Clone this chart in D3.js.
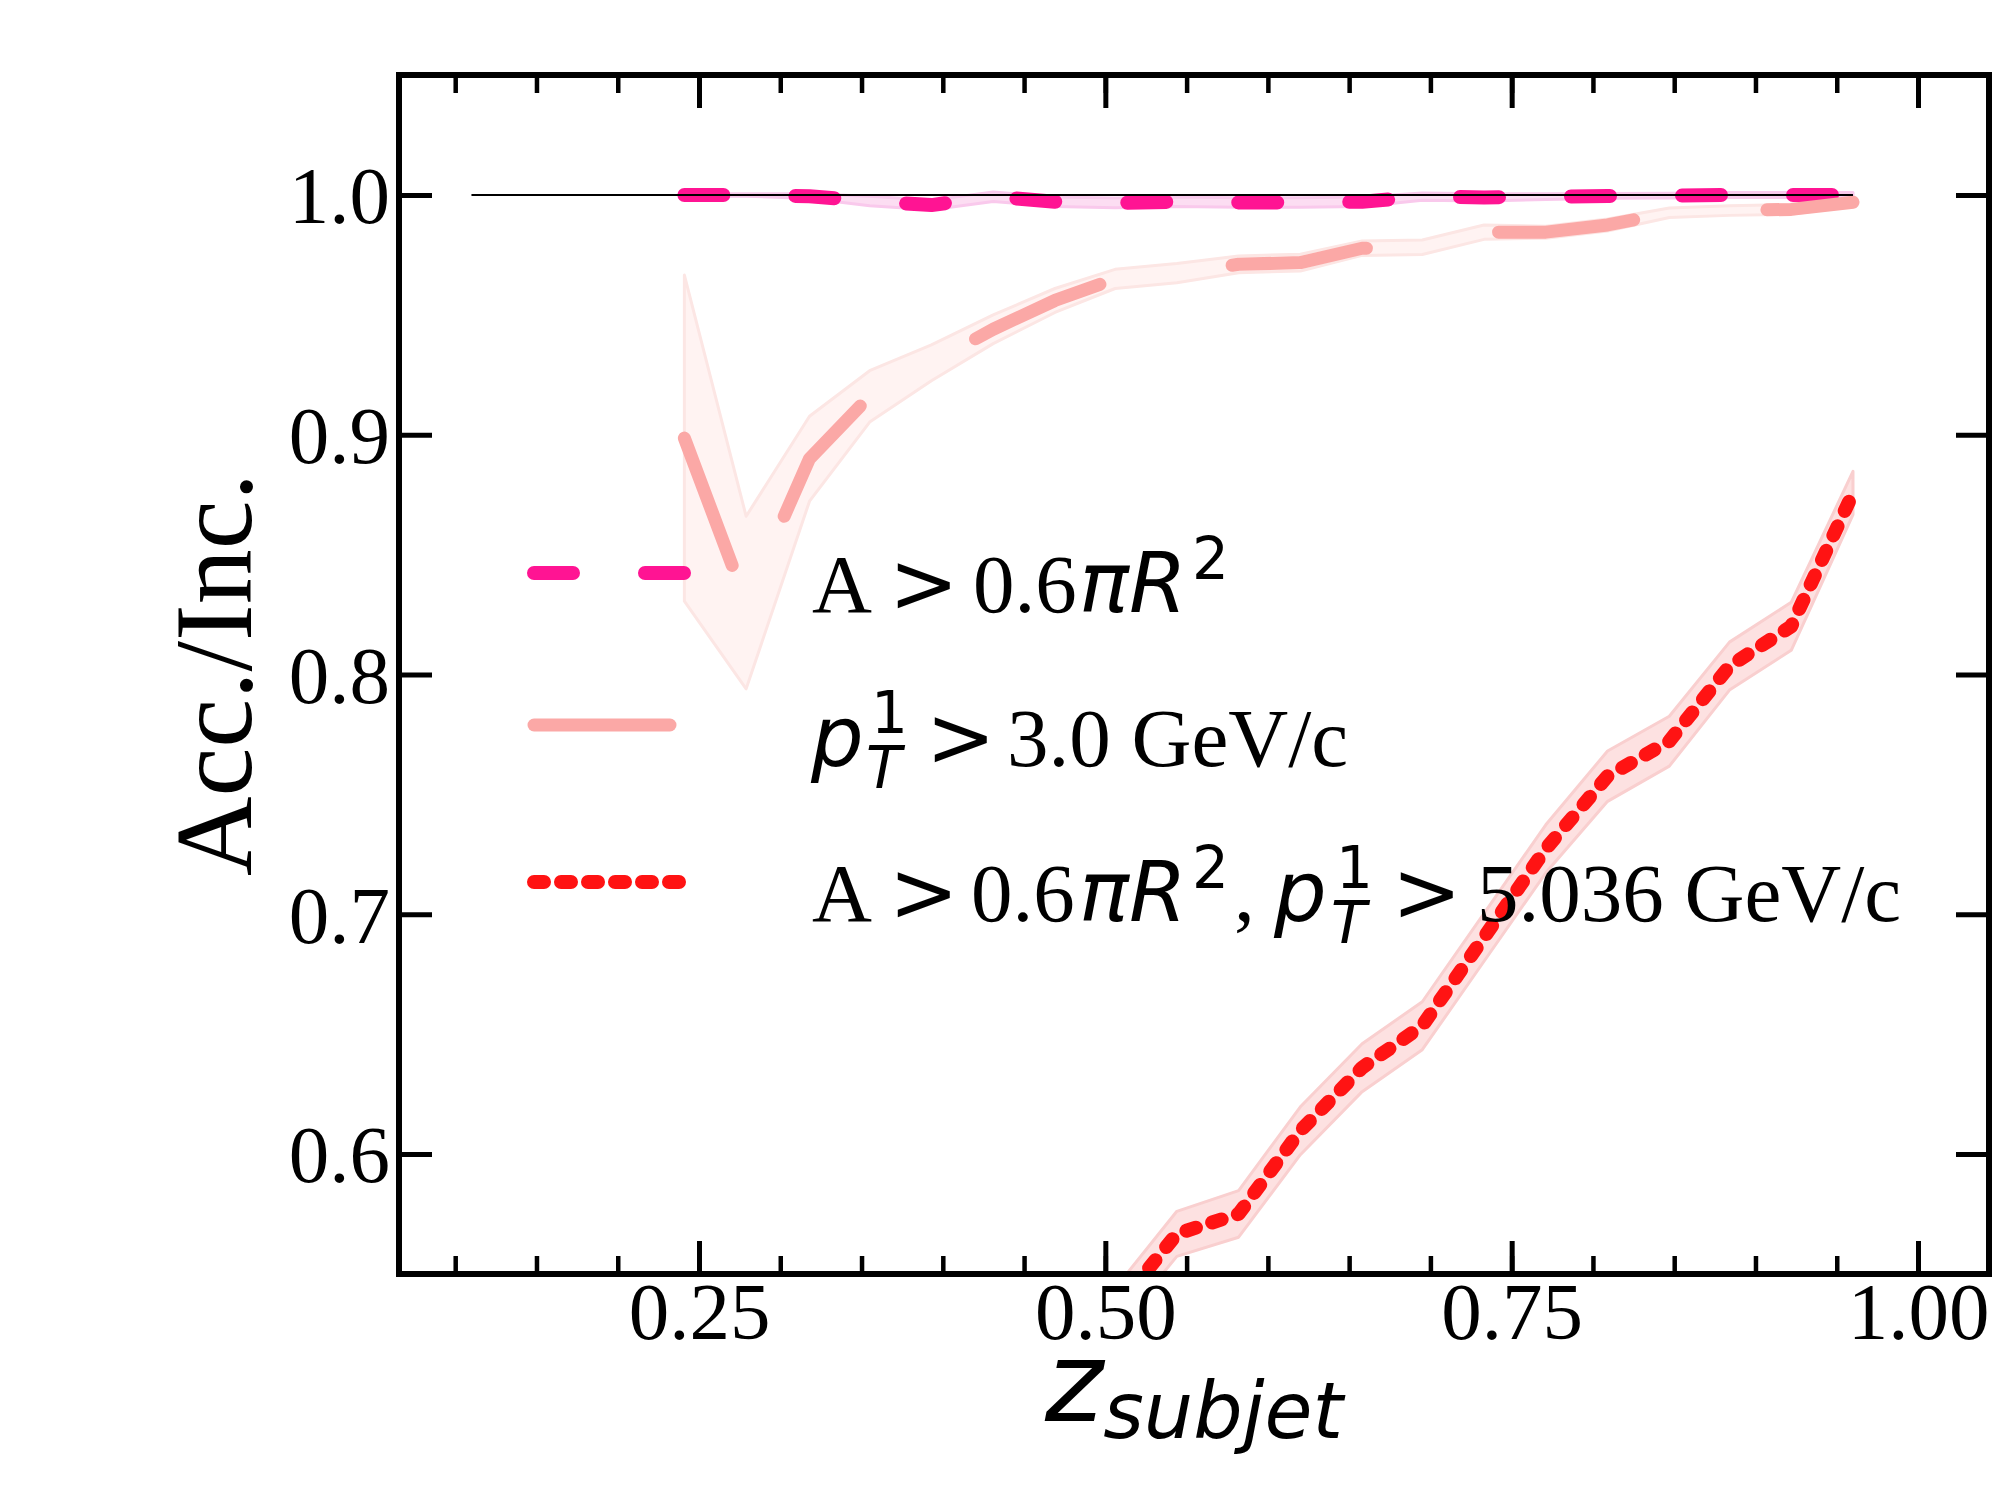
<!DOCTYPE html>
<html>
<head>
<meta charset="utf-8">
<script src="https://cdn.jsdelivr.net/npm/d3@7"></script>
<style>
  html, body { margin: 0; padding: 0; background: #fff; }
  svg { display: block; }
</style>
</head>
<body>
<svg id="chart" width="2000" height="1500"></svg>
<script>
// ---------------- data ----------------
const zBins = [0.241, 0.279, 0.318, 0.355, 0.393, 0.431, 0.469, 0.506, 0.544, 0.582,
               0.620, 0.658, 0.695, 0.733, 0.771, 0.809, 0.847, 0.884, 0.922, 0.960];

// A > 0.6 pi R^2
const areaRatio = [1.000, 1.000, 0.9995, 0.9975, 0.9958, 0.9993, 0.9972, 0.9967, 0.9972, 0.9969,
                   0.9969, 0.9972, 0.9993, 0.9990, 0.9993, 0.9996, 0.9997, 1.000, 1.000, 1.000];
const areaErr   = [0.0005, 0.0005, 0.001, 0.002, 0.002, 0.002, 0.002, 0.002, 0.002, 0.002,
                   0.002, 0.002, 0.0015, 0.0015, 0.0012, 0.001, 0.001, 0.001, 0.001, 0.001];

// pT leading > 3.0 GeV/c
const ptRatio = [0.8986, 0.830, 0.890, 0.916, 0.930, 0.944, 0.956, 0.965, 0.9674, 0.9711,
                 0.9718, 0.9778, 0.9782, 0.9845, 0.9845, 0.9875, 0.9926, 0.9935, 0.9940, 0.9970];
const ptErr   = [0.068, 0.036, 0.0177, 0.0107, 0.0075, 0.006, 0.005, 0.004, 0.004, 0.0035,
                 0.0035, 0.003, 0.003, 0.003, 0.0025, 0.0025, 0.002, 0.002, 0.002, 0.0015];

// A > 0.6 pi R^2 and pT leading > 5.036 GeV/c
const comboZ     = [0.506, 0.544, 0.582, 0.620, 0.658, 0.695, 0.733, 0.771, 0.809, 0.847, 0.884, 0.922, 0.960];
const comboRatio = [0.535, 0.5667, 0.575, 0.6097, 0.636, 0.6535, 0.6904, 0.7273, 0.7576, 0.7722, 0.8035, 0.8201, 0.8757];
const comboErr   = [0.009, 0.0094, 0.0097, 0.010, 0.010, 0.010, 0.010, 0.010, 0.0105, 0.0104, 0.010, 0.010, 0.009];

const refLineZ = [0.11, 0.96];
const refLineY = [1.0, 1.0];

const xMajorTicks = [0.25, 0.50, 0.75, 1.00];
const xMinorTicks = [0.10, 0.15, 0.20, 0.25, 0.30, 0.35, 0.40, 0.45, 0.50, 0.55,
                     0.60, 0.65, 0.70, 0.75, 0.80, 0.85, 0.90, 0.95, 1.00];
const yMajorTicks = [0.6, 0.7, 0.8, 0.9, 1.0];

const xDomain = [0.06542, 1.04368];
const yDomain = [0.54995, 1.05005];

const yLabel = "Acc./Inc.";
const xLabelMain = "z";
const xLabelSub = "subjet";

// ---------------- styles ----------------
const SERIF = "'Liberation Serif', 'Times New Roman', Times, serif";
const MATH = "'DejaVu Sans', sans-serif";

const series = [
  { name: "area", z: zBins, v: areaRatio, e: areaErr,
    color: "#FF1493", width: 14, dash: "39 72",
    bandFill: "#FCDDF2", bandStroke: "#F9C9EC" },
  { name: "pt", z: zBins, v: ptRatio, e: ptErr,
    color: "#FBA8A6", width: 13, dash: "136 134",
    bandFill: "#FFF3F2", bandStroke: "#FCE6E4" },
  { name: "combo", z: comboZ, v: comboRatio, e: comboErr,
    color: "#FF1313", width: 14, dash: "10 17",
    bandFill: "#FDE1E1", bandStroke: "#F9CFCF" }
];

// ---------------- layout ----------------
const L = 399, R = 1989, T = 75, B = 1274;
const x = d3.scaleLinear().domain(xDomain).range([L, R]);
const y = d3.scaleLinear().domain(yDomain).range([B, T]);

const svg = d3.select("#chart");
svg.append("rect").attr("width", 2000).attr("height", 1500).attr("fill", "#fff");

svg.append("defs").append("clipPath").attr("id", "plotclip")
  .append("rect").attr("x", L).attr("y", T).attr("width", R - L).attr("height", B - T);

const plot = svg.append("g").attr("clip-path", "url(#plotclip)");

// bands
series.forEach(s => {
  const pts = s.z.map((z, i) => ({ z, v: s.v[i], e: s.e[i] }));
  const area = d3.area().x(d => x(d.z)).y0(d => y(d.v - d.e)).y1(d => y(d.v + d.e));
  plot.append("path").datum(pts).attr("d", area)
    .attr("fill", s.bandFill).attr("stroke", s.bandStroke).attr("stroke-width", 3)
    .attr("stroke-linejoin", "round");
});

// lines
series.forEach(s => {
  const pts = s.z.map((z, i) => ({ z, v: s.v[i] }));
  const line = d3.line().x(d => x(d.z)).y(d => y(d.v));
  plot.append("path").datum(pts).attr("d", line)
    .attr("fill", "none").attr("stroke", s.color).attr("stroke-width", s.width)
    .attr("stroke-dasharray", s.dash).attr("stroke-linecap", "round")
    .attr("stroke-linejoin", "round");
});

// reference line at 1.0
plot.append("path")
  .datum(refLineZ.map((z, i) => ({ z, v: refLineY[i] })))
  .attr("d", d3.line().x(d => x(d.z)).y(d => y(d.v)))
  .attr("fill", "none").attr("stroke", "#000").attr("stroke-width", 2);

// ---------------- axes ----------------
function styleAxis(g, w) {
  g.select(".domain").remove();
  g.selectAll(".tick line").attr("stroke", "#000").attr("stroke-width", w);
}
// bottom
const gxMinor = svg.append("g").attr("transform", `translate(0,${B})`)
  .call(d3.axisBottom(x).tickValues(xMinorTicks).tickSize(-18).tickFormat(""));
styleAxis(gxMinor, 4.5);
const gx = svg.append("g").attr("transform", `translate(0,${B})`)
  .call(d3.axisBottom(x).tickValues(xMajorTicks).tickSize(-33).tickPadding(8).tickFormat(d3.format(".2f")));
styleAxis(gx, 5);
gx.selectAll(".tick text").attr("font-family", SERIF).attr("font-size", 81).attr("fill", "#000")
  .attr("y", 65).attr("dy", 0);
// top
const gtMinor = svg.append("g").attr("transform", `translate(0,${T})`)
  .call(d3.axisTop(x).tickValues(xMinorTicks).tickSize(-18).tickFormat(""));
styleAxis(gtMinor, 4.5);
const gt = svg.append("g").attr("transform", `translate(0,${T})`)
  .call(d3.axisTop(x).tickValues(xMajorTicks).tickSize(-33).tickFormat(""));
styleAxis(gt, 5);
// left
const gy = svg.append("g").attr("transform", `translate(${L},0)`)
  .call(d3.axisLeft(y).tickValues(yMajorTicks).tickSize(-33).tickPadding(9).tickFormat(d3.format(".1f")));
styleAxis(gy, 5);
gy.selectAll(".tick text").attr("font-family", SERIF).attr("font-size", 81).attr("fill", "#000")
  .attr("dy", "0.345em");
// right
const gr = svg.append("g").attr("transform", `translate(${R},0)`)
  .call(d3.axisRight(y).tickValues(yMajorTicks).tickSize(-33).tickFormat(""));
styleAxis(gr, 5);

// frame
svg.append("rect").attr("x", L).attr("y", T).attr("width", R - L).attr("height", B - T)
  .attr("fill", "none").attr("stroke", "#000").attr("stroke-width", 6);

// ---------------- axis labels ----------------
svg.append("text")
  .attr("transform", `translate(251,${(T + B) / 2}) rotate(-90)`)
  .attr("text-anchor", "middle")
  .attr("font-family", SERIF).attr("font-size", 110).attr("fill", "#000")
  .text(yLabel);

const xl = svg.append("text")
  .attr("x", (L + R) / 2).attr("y", 1421)
  .attr("text-anchor", "middle")
  .attr("font-family", MATH).attr("font-style", "italic").attr("fill", "#000");
xl.append("tspan").attr("font-size", 111).text(xLabelMain);
xl.append("tspan").attr("font-size", 78).attr("dy", 17).text(xLabelSub);

// ---------------- legend ----------------
// each text element is a list of pieces: [text, x, baselineShift, family, italic, size]
const legendRows = [
  { base: 612, handleY: 573, s: 0, items: [
    [["A", 812, 0, "serif", false, 83]],
    [[">", 889, 0, "math", false, 83]],
    [["0.6", 973, 0, "serif", false, 83]],
    [["\u03C0R", 1079, 0, "math", true, 83], ["2", 1192, -33, "math", false, 58]]
  ]},
  { base: 766, handleY: 725, s: 1, items: [
    [["p", 811, 0, "math", true, 83], ["1", 871, -33, "math", false, 58], ["T", 866, 22, "math", true, 58]],
    [[">", 926, 0, "math", false, 83]],
    [["3.0 GeV/c", 1007, 0, "serif", false, 83]]
  ]},
  { base: 921, handleY: 882, s: 2, items: [
    [["A", 812, 0, "serif", false, 83]],
    [[">", 889, 0, "math", false, 83]],
    [["0.6", 971, 0, "serif", false, 83]],
    [["\u03C0R", 1079, 0, "math", true, 83], ["2", 1192, -33, "math", false, 58]],
    [[",", 1234, 0, "serif", false, 83]],
    [["p", 1274, 0, "math", true, 83], ["1", 1336, -33, "math", false, 58], ["T", 1331, 22, "math", true, 58]],
    [[">", 1392, 0, "math", false, 83]],
    [["5.036 GeV/c", 1477, 0, "serif", false, 83]]
  ]}
];

const leg = svg.append("g");
legendRows.forEach(row => {
  const s = series[row.s];
  leg.append("line")
    .attr("x1", 534).attr("x2", 684).attr("y1", row.handleY).attr("y2", row.handleY)
    .attr("stroke", s.color).attr("stroke-width", s.width)
    .attr("stroke-dasharray", s.dash).attr("stroke-linecap", "round");
  row.items.forEach(pieces => {
    const t = leg.append("text").attr("fill", "#000").style("white-space", "pre");
    pieces.forEach(p => {
      t.append("tspan")
        .attr("x", p[1]).attr("y", row.base + p[2])
        .attr("font-family", p[3] === "serif" ? SERIF : MATH)
        .attr("font-style", p[4] ? "italic" : "normal")
        .attr("font-size", p[5])
        .text(p[0]);
    });
  });
});
</script>
</body>
</html>
